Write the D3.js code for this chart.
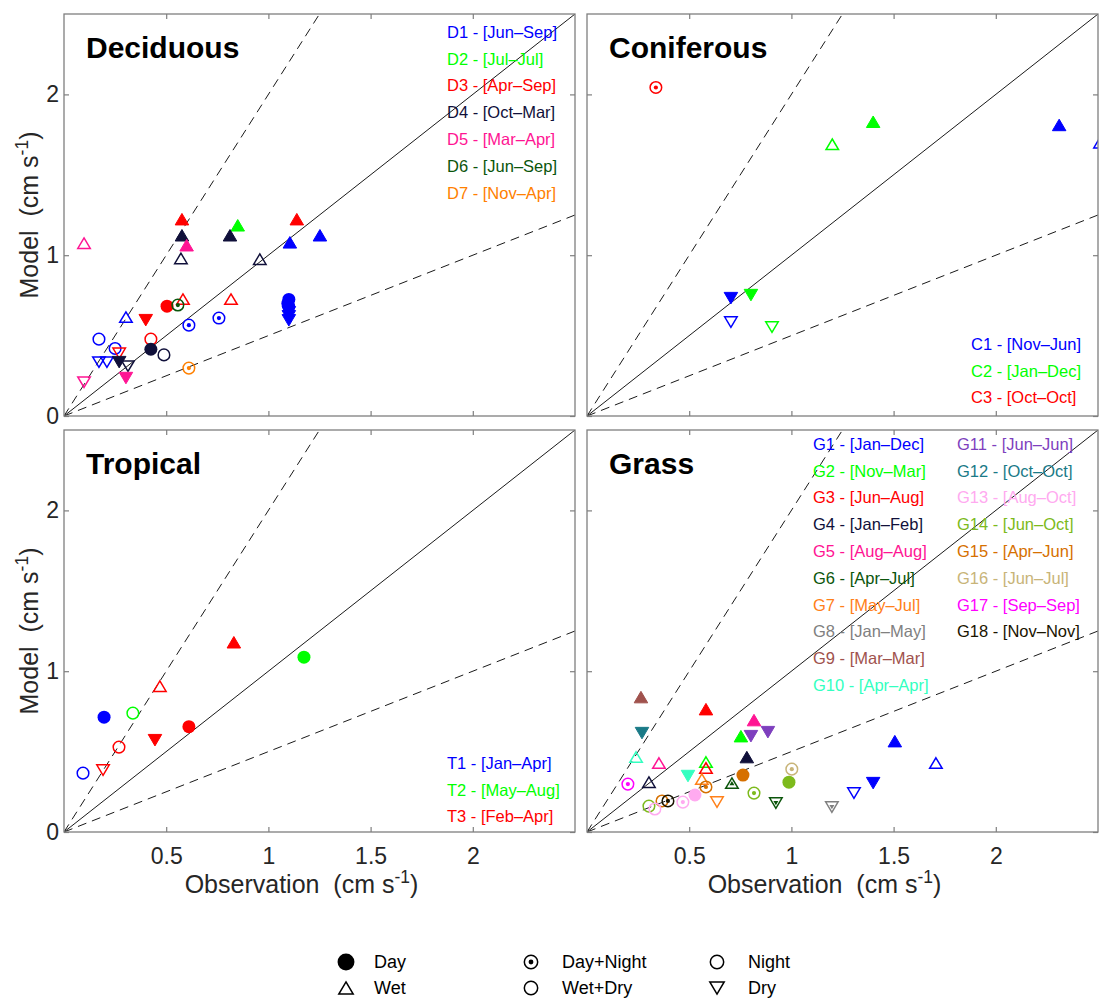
<!DOCTYPE html>
<html>
<head>
<meta charset="utf-8">
<script src="https://cdnjs.cloudflare.com/ajax/libs/d3/7.8.5/d3.min.js"></script>
<style>
    body { margin: 0; background: #fff; }
    svg { font-family: "Liberation Sans", Arial, sans-serif; }
</style>
</head>
<body>
<div id="chart"></div>
<script>
"use strict";

// axis ticks
var xTicks = [0.5, 1, 1.5, 2];
var xTickLabels = ["0.5", "1", "1.5", "2"];
var yTicks = [0, 1, 2];
var yTickLabels = ["0", "1", "2"];

// reference lines: 1:1, 2:1, 1:2
var refSlopes = [1, 2, 0.5];

// site legends
var decidLabels = ["D1 - [Jun\u2013Sep]", "D2 - [Jul\u2013Jul]", "D3 - [Apr\u2013Sep]", "D4 - [Oct\u2013Mar]",
    "D5 - [Mar\u2013Apr]", "D6 - [Jun\u2013Sep]", "D7 - [Nov\u2013Apr]"];
var decidColors = ["#0000ff", "#00ff00", "#ff0000", "#10103a", "#ff1493", "#0b550b", "#ff8000"];

var conifLabels = ["C1 - [Nov\u2013Jun]", "C2 - [Jan\u2013Dec]", "C3 - [Oct\u2013Oct]"];
var conifColors = ["#0000ff", "#00ff00", "#ff0000"];

var tropLabels = ["T1 - [Jan\u2013Apr]", "T2 - [May\u2013Aug]", "T3 - [Feb\u2013Apr]"];
var tropColors = ["#0000ff", "#00ff00", "#ff0000"];

var grassLabels = ["G1 - [Jan\u2013Dec]", "G2 - [Nov\u2013Mar]", "G3 - [Jun\u2013Aug]", "G4 - [Jan\u2013Feb]",
    "G5 - [Aug\u2013Aug]", "G6 - [Apr\u2013Jul]", "G7 - [May\u2013Jul]", "G8 - [Jan\u2013May]",
    "G9 - [Mar\u2013Mar]", "G10 - [Apr\u2013Apr]", "G11 - [Jun\u2013Jun]", "G12 - [Oct\u2013Oct]",
    "G13 - [Aug\u2013Oct]", "G14 - [Jun\u2013Oct]", "G15 - [Apr\u2013Jun]", "G16 - [Jun\u2013Jul]",
    "G17 - [Sep\u2013Sep]", "G18 - [Nov\u2013Nov]"];
var grassColors = ["#0000ff", "#00ff00", "#ff0000", "#10103a", "#ff1493", "#0b550b", "#ff8019",
    "#808080", "#a0524d", "#33ffc0", "#7e3fbe", "#1a7a87", "#ffaaf0", "#7dba1c", "#d67000",
    "#c8b478", "#ff00ff", "#1a1400"];

// points: [site index, shape (c circle, u wet, d dry), fill (f day, n night, dn day+night), obs, model]
var decidPoints = [
    [4, "u", "n", 0.098, 1.075], [2, "u", "f", 0.577, 1.224], [2, "u", "f", 1.139, 1.224],
    [1, "u", "f", 0.85, 1.186], [3, "u", "f", 0.577, 1.124], [3, "u", "f", 0.812, 1.124],
    [4, "u", "f", 0.60, 1.062], [0, "u", "f", 1.105, 1.08], [0, "u", "f", 1.252, 1.124],
    [3, "u", "n", 0.572, 0.98], [3, "u", "n", 0.958, 0.975], [2, "u", "n", 0.582, 0.727],
    [2, "u", "n", 0.817, 0.727], [2, "c", "f", 0.504, 0.683], [5, "c", "dn", 0.557, 0.69],
    [0, "u", "n", 0.303, 0.615], [2, "d", "f", 0.40, 0.596], [0, "c", "dn", 0.611, 0.565],
    [0, "c", "dn", 0.758, 0.609], [0, "c", "f", 1.10, 0.725], [0, "c", "f", 1.095, 0.70],
    [0, "c", "f", 1.10, 0.68], [0, "d", "f", 1.10, 0.645], [0, "d", "f", 1.10, 0.62],
    [0, "d", "f", 1.10, 0.595], [0, "c", "n", 0.171, 0.478], [0, "c", "n", 0.25, 0.42],
    [0, "d", "n", 0.171, 0.335], [0, "d", "n", 0.21, 0.335], [2, "c", "n", 0.425, 0.478],
    [2, "d", "n", 0.27, 0.39], [3, "d", "f", 0.27, 0.335], [3, "d", "n", 0.313, 0.31],
    [4, "d", "f", 0.303, 0.236], [4, "d", "n", 0.098, 0.21], [3, "c", "f", 0.425, 0.415],
    [3, "c", "n", 0.489, 0.38], [6, "c", "dn", 0.611, 0.298]
];

var conifPoints = [
    [2, "c", "dn", 0.337, 2.043], [1, "u", "f", 1.40, 1.83], [1, "u", "n", 1.20, 1.69],
    [0, "u", "f", 2.31, 1.81], [0, "u", "n", 2.51, 1.70], [0, "d", "f", 0.704, 0.733],
    [1, "d", "f", 0.802, 0.752], [0, "d", "n", 0.704, 0.584], [1, "d", "n", 0.905, 0.553]
];

var tropPoints = [
    [2, "u", "f", 0.831, 1.18], [1, "c", "f", 1.174, 1.087], [2, "u", "n", 0.469, 0.907],
    [0, "c", "f", 0.196, 0.714], [1, "c", "n", 0.337, 0.739], [2, "c", "f", 0.611, 0.655],
    [2, "d", "f", 0.445, 0.571], [2, "c", "n", 0.269, 0.528], [0, "c", "n", 0.093, 0.366],
    [2, "d", "n", 0.191, 0.385]
];

var grassPoints = [
    [8, "u", "f", 0.264, 0.839], [11, "d", "f", 0.269, 0.615], [9, "u", "n", 0.24, 0.466],
    [4, "u", "n", 0.352, 0.429], [16, "c", "dn", 0.20, 0.298], [3, "u", "n", 0.303, 0.31],
    [2, "u", "f", 0.582, 0.764], [1, "u", "n", 0.582, 0.435], [2, "u", "n", 0.582, 0.398],
    [9, "d", "f", 0.494, 0.348], [6, "u", "n", 0.562, 0.329], [14, "c", "dn", 0.582, 0.28],
    [12, "c", "f", 0.528, 0.23], [12, "c", "dn", 0.469, 0.186], [14, "c", "n", 0.367, 0.193],
    [17, "c", "dn", 0.396, 0.193], [13, "c", "n", 0.303, 0.161], [12, "c", "n", 0.332, 0.143],
    [6, "d", "n", 0.636, 0.186], [5, "u", "dn", 0.709, 0.304], [14, "c", "f", 0.763, 0.354],
    [3, "u", "f", 0.782, 0.466], [1, "u", "f", 0.753, 0.596], [10, "d", "f", 0.802, 0.596],
    [4, "u", "f", 0.817, 0.696], [10, "d", "f", 0.885, 0.621], [13, "c", "dn", 0.817, 0.242],
    [5, "d", "dn", 0.924, 0.18], [15, "c", "dn", 1.002, 0.391], [13, "c", "f", 0.988, 0.31],
    [7, "d", "dn", 1.198, 0.155], [0, "d", "n", 1.306, 0.242], [0, "d", "f", 1.40, 0.304],
    [0, "u", "f", 1.506, 0.565], [0, "u", "n", 1.707, 0.429]
];

// marker key
var keyNames = ["Day", "Wet", "Day+Night", "Wet+Dry", "Night", "Dry"];
var keyShapes = ["c", "u", "c", "c", "c", "d"];
var keyFills = ["f", "n", "dn", "n", "n", "n"];

// set the dimensions of each panel
var width = 511,
    height = 402;

var svg = d3.select("#chart").append("svg")
    .attr("width", 1099)
    .attr("height", 998);

// set the ranges
var x = d3.scaleLinear().domain([0, 2.5]).range([0, width]);
var y = d3.scaleLinear().domain([0, 2.5]).range([height, 0]);

var axisColor = "#7f7f7f",
    textColor = "#262626";

// triangle path centred on its box
function triPath(w, h, down) {
    var s = down ? -1 : 1;
    return "M0," + (-s * h / 2) + "L" + (w / 2) + "," + (s * h / 2) + "L" + (-w / 2) + "," + (s * h / 2) + "Z";
}

// draw one marker at (cx, cy)
function drawMarker(g, shape, fill, color, cx, cy, scale) {
    scale = scale || 1;
    var m = g.append("g").attr("transform", "translate(" + cx + "," + cy + ")");
    if (shape === "c") {
        if (fill === "f") {
            m.append("circle").attr("r", 6.5 * scale).style("fill", color);
        } else {
            m.append("circle").attr("r", 5.8 * scale)
                .style("fill", "none").style("stroke", color).style("stroke-width", 1.5);
            if (fill === "dn") {
                m.append("circle").attr("r", 2.1 * scale).style("fill", color);
            }
        }
    } else {
        var down = shape === "d";
        if (fill === "f") {
            m.append("path").attr("d", triPath(13.5 * scale, 11.5 * scale, down))
                .style("fill", color).style("stroke", color).style("stroke-width", 1);
        } else {
            m.append("path").attr("d", triPath(12.5 * scale, 10.5 * scale, down))
                .style("fill", "none").style("stroke", color).style("stroke-width", 1.5)
                .style("stroke-linejoin", "miter");
            if (fill === "dn") {
                m.append("path").attr("d", triPath(5 * scale, 4.2 * scale, down))
                    .style("fill", color);
            }
        }
    }
}

// superscript unit label
function unitLabel(sel, name, size) {
    sel.append("tspan").text(name + "\u00a0 (cm s");
    sel.append("tspan").attr("dy", -size * 0.42).style("font-size", (size * 0.7) + "px").text("-1");
    sel.append("tspan").attr("dy", size * 0.42).text(")");
}

var panels = [
    { title: "Deciduous", points: decidPoints, labels: decidLabels, colors: decidColors,
      left: 64, top: 14, showX: false, showY: true, legX: 447, legY: 32, cols: 1 },
    { title: "Coniferous", points: conifPoints, labels: conifLabels, colors: conifColors,
      left: 587, top: 14, showX: false, showY: false, legX: 971, legY: 344, cols: 1 },
    { title: "Tropical", points: tropPoints, labels: tropLabels, colors: tropColors,
      left: 64, top: 430, showX: true, showY: true, legX: 447, legY: 763, cols: 1 },
    { title: "Grass", points: grassPoints, labels: grassLabels, colors: grassColors,
      left: 587, top: 430, showX: true, showY: false, legX: 813, legY: 444, cols: 2 }
];

panels.forEach(function (p, pi) {
    var g = svg.append("g")
        .attr("transform", "translate(" + p.left + "," + p.top + ")");

    // clip for lines and markers
    g.append("clipPath").attr("id", "clip" + pi)
        .append("rect").attr("width", width).attr("height", height);

    var plot = g.append("g").attr("clip-path", "url(#clip" + pi + ")");

    // reference lines
    refSlopes.forEach(function (s) {
        var xEnd = Math.min(2.5, 2.5 / s);
        plot.append("line")
            .attr("x1", x(0)).attr("y1", y(0))
            .attr("x2", x(xEnd)).attr("y2", y(xEnd * s))
            .style("stroke", "#1a1a1a")
            .style("stroke-width", 1)
            .style("stroke-dasharray", s === 1 ? null : "9,6");
    });

    // axes with inward ticks on all four sides
    function styleAxis(a) {
        a.select(".domain").remove();
        a.selectAll(".tick line").style("stroke", axisColor).style("stroke-width", 1.2);
        a.selectAll(".tick text").style("fill", textColor).style("font-size", "23px")
            .style("font-family", "'Liberation Sans', Arial, sans-serif");
    }

    g.append("g")
        .attr("transform", "translate(0," + height + ")")
        .call(d3.axisBottom(x).tickValues(xTicks).tickSize(-5).tickPadding(16)
            .tickFormat(function (d, i) { return p.showX ? xTickLabels[i] : ""; }))
        .call(styleAxis);

    g.append("g")
        .call(d3.axisTop(x).tickValues(xTicks).tickSize(-5).tickFormat(""))
        .call(styleAxis);

    g.append("g")
        .call(d3.axisLeft(y).tickValues(yTicks).tickSize(-5).tickPadding(5)
            .tickFormat(function (d, i) { return p.showY ? yTickLabels[i] : ""; }))
        .call(styleAxis);

    g.append("g")
        .attr("transform", "translate(" + width + ",0)")
        .call(d3.axisRight(y).tickValues(yTicks).tickSize(-5).tickFormat(""))
        .call(styleAxis);

    // box
    g.append("rect")
        .attr("width", width).attr("height", height)
        .style("fill", "none").style("stroke", axisColor).style("stroke-width", 1.3);

    // markers
    p.points.forEach(function (d) {
        drawMarker(plot, d[1], d[2], p.colors[d[0]], x(d[3]), y(d[4]));
    });

    // panel title
    g.append("text")
        .attr("x", 22).attr("y", 44)
        .style("font-size", "30px").style("font-weight", "bold").style("fill", "#000")
        .text(p.title);

    // site legend
    var perCol = p.cols === 2 ? 10 : p.labels.length;
    p.labels.forEach(function (t, i) {
        var col = Math.floor(i / perCol), row = i % perCol;
        svg.append("text")
            .attr("x", p.legX + col * 144)
            .attr("y", p.legY + row * 26.8)
            .attr("dy", "0.35em")
            .style("font-size", "16.5px")
            .style("fill", p.colors[i])
            .text(t);
    });

    // axis titles
    if (p.showY) {
        var yl = svg.append("text")
            .attr("transform", "translate(38," + (p.top + height / 2) + ") rotate(-90)")
            .attr("text-anchor", "middle")
            .style("font-size", "25px").style("fill", textColor);
        unitLabel(yl, "Model", 25);
    }
    if (p.showX) {
        var xl = svg.append("text")
            .attr("x", p.left + width / 2 - 18).attr("y", 893)
            .attr("text-anchor", "middle")
            .style("font-size", "25px").style("fill", textColor);
        unitLabel(xl, "Observation", 25);
    }
});

// marker key at the bottom
var keyX = [346, 346, 531, 531, 717, 717],
    keyY = [962, 988, 962, 988, 962, 988];
keyNames.forEach(function (t, i) {
    drawMarker(svg, keyShapes[i], keyFills[i], "#000", keyX[i], keyY[i], i === 0 ? 1.3 : 1.15);
    svg.append("text")
        .attr("x", keyX[i] + (i < 2 ? 28 : 31))
        .attr("y", keyY[i])
        .attr("dy", "0.35em")
        .style("font-size", "18px").style("fill", "#000")
        .text(t);
});
</script>
</body>
</html>
